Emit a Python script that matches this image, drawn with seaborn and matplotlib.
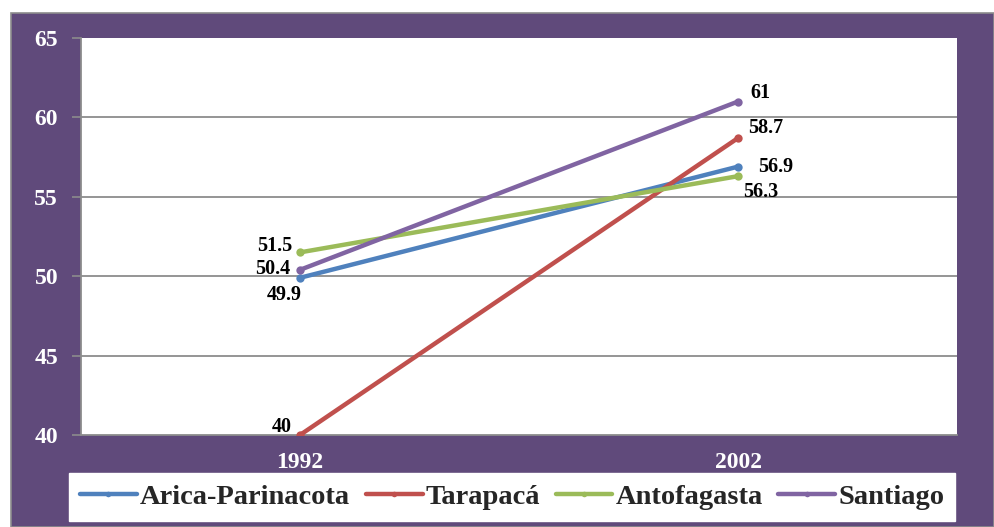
import matplotlib
matplotlib.use("Agg")
import matplotlib.pyplot as plt
from matplotlib.patches import Rectangle
import seaborn as sns
import pandas as pd

years = ["1992", "2002"]
regions = ["Arica-Parinacota", "Tarapacá", "Antofagasta", "Santiago"]
arica = [49.9, 56.9]
tarapaca = [40, 58.7]
antofagasta = [51.5, 56.3]
santiago = [50.4, 61]
colors = ["#4F81BD", "#C0504D", "#9BBB59", "#8064A2"]
y_ticks = [40, 45, 50, 55, 60, 65]

series = [arica, tarapaca, antofagasta, santiago]
rows = []
for r, vals in zip(regions, series):
    for i, v in enumerate(vals):
        rows.append({"pos": i, "year": years[i], "region": r, "value": v})
df = pd.DataFrame(rows)

sns.set_theme(style="white")
plt.rcParams["font.family"] = ["Liberation Serif", "DejaVu Serif"]
plt.rcParams["font.weight"] = "bold"

fig = plt.figure(figsize=(9.94, 5.27), dpi=100, facecolor="white")
bg = Rectangle((11 / 994, 0), 1 - 11 / 994, 1 - 13 / 527, transform=fig.transFigure,
               facecolor="#604A7B", edgecolor="#8C8C8C", linewidth=1.2, zorder=-5)
fig.add_artist(bg)

ax = fig.add_axes([81 / 994, 1 - 435 / 527, (957 - 81) / 994, (435 - 38) / 527])
ax.set_zorder(1)
ax.set_facecolor("white")

sns.lineplot(data=df, x="pos", y="value", hue="region", hue_order=regions,
             palette=colors, marker="o", markersize=6, markeredgewidth=0,
             linewidth=3.2, ax=ax, legend=False, zorder=3)

ax.set_xlim(-0.5, 1.5)
ax.set_ylim(40, 65)
ax.set_yticks(y_ticks)
ax.set_yticklabels([str(t) for t in y_ticks])
ax.set_xticks([0, 1])
ax.set_xticklabels(years)
ax.set_xticks([-0.5, 0.5, 1.5], minor=True)
ax.tick_params(axis="x", which="major", length=0, pad=12, labelsize=17, labelcolor="white")
ax.tick_params(axis="x", which="minor", length=6, width=1.2, color="#8C8C8C", direction="out")
ax.tick_params(axis="y", which="major", length=6.5, width=1.2, color="#8C8C8C",
               direction="out", pad=10, labelsize=17, labelcolor="white", left=True)
for lab in ax.get_xticklabels() + ax.get_yticklabels():
    lab.set_fontweight("bold")
ax.set_xlabel("")
ax.set_ylabel("")
for y in y_ticks[1:-1]:
    ax.axhline(y, color="#8C8C8C", linewidth=1.3, zorder=1)
for s in ["top", "right"]:
    ax.spines[s].set_visible(False)
for s in ["left", "bottom"]:
    ax.spines[s].set_color("#8C8C8C")
    ax.spines[s].set_linewidth(1.3)
ax.grid(False)

# data labels: (region index, point index) -> (dx px, dy px, ha, va)
offsets = {
    (0, 0): (-16, -17, "center", "center"),
    (0, 1): (20, 0, "left", "center"),
    (1, 0): (-8, 8.5, "right", "center"),
    (1, 1): (10, 10.5, "left", "center"),
    (2, 0): (-8, 6, "right", "center"),
    (2, 1): (5, -16, "left", "center"),
    (3, 0): (-10, 1, "right", "center"),
    (3, 1): (12, 8.5, "left", "center"),
}
for ri, vals in enumerate(series):
    for pi, v in enumerate(vals):
        dx, dy, ha, va = offsets[(ri, pi)]
        ax.annotate(f"{v:g}", (pi, v), xytext=(dx * 0.72, dy * 0.72), textcoords="offset points",
                    ha=ha, va=va, fontsize=14.5, fontweight="bold", color="black",
                    zorder=5, annotation_clip=False)

handles = [plt.Line2D([], [], color=c, linewidth=3.2, marker="o", markersize=4,
                      markeredgewidth=0) for c in colors]
leg = fig.legend(handles, regions, loc="center", ncol=4,
                 bbox_to_anchor=(512 / 994, 1 - 497 / 527),
                 frameon=True, fancybox=False, facecolor="white", edgecolor="white",
                 framealpha=1, prop={"size": 20.5, "weight": "bold"},
                 handlelength=2.0, handletextpad=0.1, columnspacing=0.55,
                 borderpad=0.4, borderaxespad=0)
leg.set_zorder(10)

fig.savefig("out.png", dpi=100, facecolor="white")
